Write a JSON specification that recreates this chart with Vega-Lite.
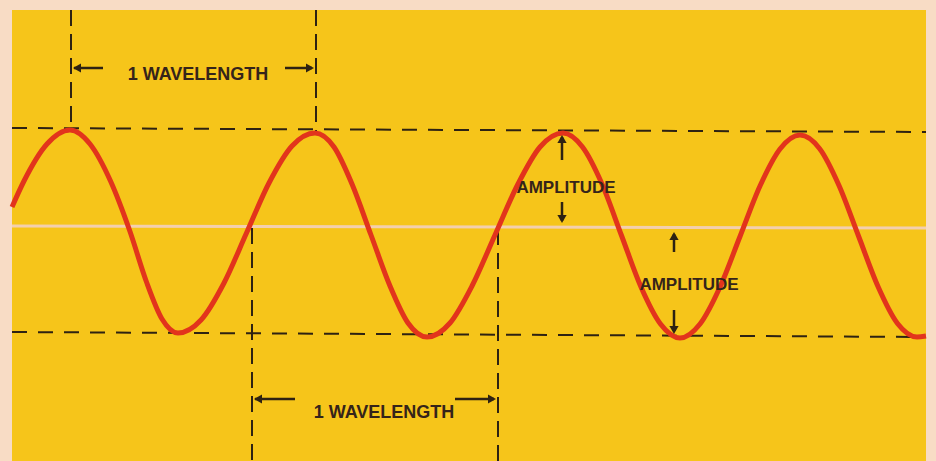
{
  "$schema": "https://vega.github.io/schema/vega-lite/v6.json",
  "width": 914,
  "height": 451,
  "autosize": {"type": "none"},
  "padding": {"left": 12, "top": 10, "right": 10, "bottom": 0},
  "background": "#F8DCC5",
  "config": {"view": {"stroke": null, "fill": "#F6C51A"}},
  "datasets": {
    "midline": [{"x": 12, "y": 1, "x2": 926, "y2": -1}],
    "hdash": [
      {"name": "crest level", "x": 12, "y": 99, "x2": 926, "y2": 95},
      {"name": "trough level", "x": 12, "y": -105, "x2": 926, "y2": -110}
    ],
    "vdash": [
      {"x": 71, "y": 217, "y2": 99},
      {"x": 316, "y": 217, "y2": 95},
      {"x": 252, "y": -1, "y2": -234},
      {"x": 498, "y": -2, "y2": -234}
    ],
    "wave": [
      {"x": 12, "y": 20}, {"x": 24, "y": 46}, {"x": 47, "y": 83}, {"x": 70, "y": 97},
      {"x": 90, "y": 83}, {"x": 110.5, "y": 46}, {"x": 130, "y": -4.5}, {"x": 146.5, "y": -55}, {"x": 162, "y": -92}, {"x": 178, "y": -106},
      {"x": 201, "y": -93}, {"x": 224, "y": -56}, {"x": 246.5, "y": -6}, {"x": 269, "y": 44}, {"x": 292, "y": 81}, {"x": 315, "y": 94},
      {"x": 334, "y": 80}, {"x": 352, "y": 43}, {"x": 371, "y": -8}, {"x": 390, "y": -59}, {"x": 408, "y": -96}, {"x": 427, "y": -110},
      {"x": 450, "y": -96}, {"x": 472, "y": -59}, {"x": 495, "y": -8}, {"x": 518, "y": 43}, {"x": 540, "y": 80}, {"x": 563, "y": 94},
      {"x": 582.5, "y": 80}, {"x": 602, "y": 43}, {"x": 621.5, "y": -8.5}, {"x": 641, "y": -60}, {"x": 660.5, "y": -97}, {"x": 680, "y": -111},
      {"x": 700, "y": -97}, {"x": 720, "y": -60}, {"x": 740, "y": -9.5}, {"x": 760, "y": 41}, {"x": 780, "y": 78}, {"x": 800, "y": 92},
      {"x": 819.5, "y": 78.5}, {"x": 839, "y": 41.5}, {"x": 858.5, "y": -9}, {"x": 878, "y": -59.5}, {"x": 897.5, "y": -96.5}, {"x": 917, "y": -110},
      {"x": 926, "y": -109}
    ],
    "shafts": [
      {"x": 74, "y": 159, "x2": 103, "y2": 159},
      {"x": 285, "y": 159, "x2": 312, "y2": 159},
      {"x": 255, "y": -172, "x2": 295, "y2": -172},
      {"x": 455, "y": -172, "x2": 494, "y2": -172},
      {"x": 562, "y": 67, "x2": 562, "y2": 90},
      {"x": 562, "y": 25, "x2": 562, "y2": 6},
      {"x": 674, "y": -25, "x2": 674, "y2": -7},
      {"x": 674, "y": -83, "x2": 674, "y2": -104}
    ],
    "heads": [
      {"x": 77, "y": 159, "dir": "triangle-left"},
      {"x": 310, "y": 159, "dir": "triangle-right"},
      {"x": 258, "y": -172, "dir": "triangle-left"},
      {"x": 492, "y": -172, "dir": "triangle-right"},
      {"x": 562, "y": 88, "dir": "triangle-up"},
      {"x": 562, "y": 8, "dir": "triangle-down"},
      {"x": 674, "y": -9, "dir": "triangle-up"},
      {"x": 674, "y": -103, "dir": "triangle-down"}
    ],
    "wlabels": [
      {"x": 198, "y": 152, "label": "1 WAVELENGTH"},
      {"x": 384, "y": -186, "label": "1 WAVELENGTH"}
    ],
    "alabels": [
      {"x": 566, "y": 39, "label": "AMPLITUDE"},
      {"x": 689, "y": -58, "label": "AMPLITUDE"}
    ]
  },
  "encoding": {
    "x": {"field": "x", "type": "quantitative", "axis": null, "scale": {"domain": [12, 926], "nice": false, "zero": false}},
    "y": {"field": "y", "type": "quantitative", "axis": null, "scale": {"domain": [-234, 217], "nice": false, "zero": false}}
  },
  "layer": [
    {
      "data": {"name": "midline"},
      "mark": {"type": "rule", "color": "#F3CFAE", "strokeWidth": 3},
      "encoding": {"x2": {"field": "x2"}, "y2": {"field": "y2"}}
    },
    {
      "data": {"name": "hdash"},
      "mark": {"type": "rule", "color": "#2E2212", "strokeWidth": 2, "strokeDash": [15, 11]},
      "encoding": {"x2": {"field": "x2"}, "y2": {"field": "y2"}}
    },
    {
      "data": {"name": "vdash"},
      "mark": {"type": "rule", "color": "#2E2212", "strokeWidth": 2, "strokeDash": [16, 8]},
      "encoding": {"y2": {"field": "y2"}}
    },
    {
      "data": {"name": "wave"},
      "mark": {"type": "line", "color": "#E2341C", "strokeWidth": 5, "interpolate": "monotone"},
      "encoding": {}
    },
    {
      "data": {"name": "shafts"},
      "mark": {"type": "rule", "color": "#2E2212", "strokeWidth": 2.5},
      "encoding": {"x2": {"field": "x2"}, "y2": {"field": "y2"}}
    },
    {
      "data": {"name": "heads"},
      "mark": {"type": "point", "filled": true, "color": "#2E2212", "size": 85, "opacity": 1},
      "encoding": {"shape": {"field": "dir", "type": "nominal", "scale": null, "legend": null}}
    },
    {
      "data": {"name": "wlabels"},
      "mark": {"type": "text", "font": "Liberation Sans", "fontWeight": "bold", "fontSize": 18, "color": "#35241A", "align": "center", "baseline": "middle"},
      "encoding": {"text": {"field": "label"}}
    },
    {
      "data": {"name": "alabels"},
      "mark": {"type": "text", "font": "Liberation Sans", "fontWeight": "bold", "fontSize": 17, "color": "#35241A", "align": "center", "baseline": "middle"},
      "encoding": {"text": {"field": "label"}}
    }
  ]
}
